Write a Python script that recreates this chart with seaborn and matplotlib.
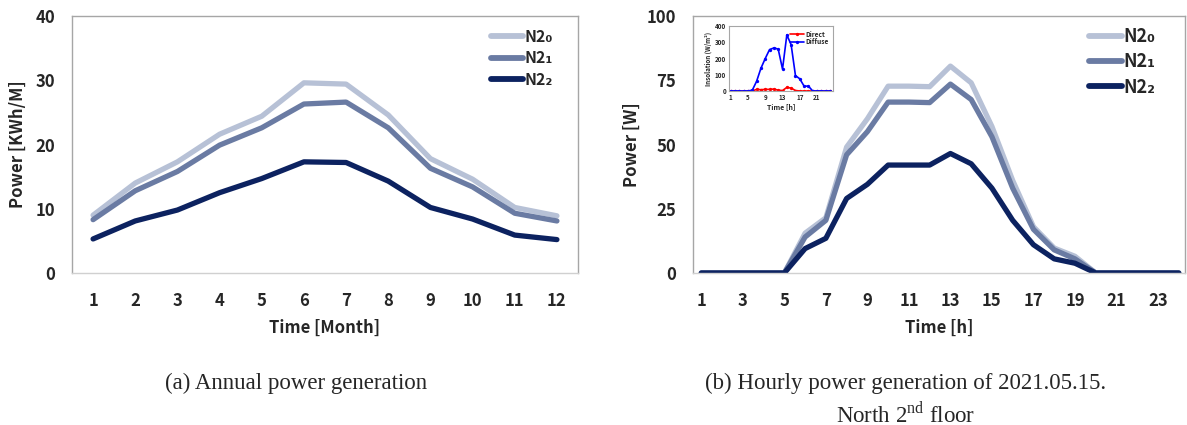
import numpy as np
import pandas as pd
import matplotlib.pyplot as plt
import seaborn as sns

# annual (kWh per month)
months = list(range(1, 13))
annual_n20 = [9.0, 14.0, 17.3, 21.6, 24.4, 29.6, 29.4, 24.6, 17.8, 14.6, 10.2, 8.9]
annual_n21 = [8.3, 12.8, 15.8, 19.9, 22.6, 26.3, 26.6, 22.6, 16.3, 13.4, 9.3, 8.1]
annual_n22 = [5.3, 8.1, 9.8, 12.5, 14.7, 17.3, 17.2, 14.3, 10.2, 8.4, 5.9, 5.2]

# hourly (W) on 2021.05.15
hours = list(range(1, 25))
hourly_n20 = [0, 0, 0, 0, 0, 15.5, 21.5, 49, 60, 72.7, 72.7, 72.5, 80.5, 74, 57, 36, 18, 9.7, 6.5, 0, 0, 0, 0, 0]
hourly_n21 = [0, 0, 0, 0, 0, 14, 20.5, 46, 55, 66.5, 66.5, 66.3, 73.5, 67.5, 53, 33, 17, 9, 5.5, 0, 0, 0, 0, 0]
hourly_n22 = [0, 0, 0, 0, 0, 9.5, 13.5, 29, 34.5, 42, 42, 42, 46.5, 42.5, 33, 20.5, 11, 5.5, 3.8, 0, 0, 0, 0, 0]

# inset insolation (W/m2)
direct = [0, 0, 0, 0, 0, 0, 10, 8, 10, 10, 12, 5, 3, 22, 18, 3, 0, 0, 0, 0, 0, 0, 0, 0]
diffuse = [0, 0, 0, 0, 0, 5, 60, 140, 200, 255, 265, 258, 135, 345, 285, 95, 75, 30, 30, 0, 0, 0, 0, 0]

series_names = ["N2\u2080", "N2\u2081", "N2\u2082"]
colors = ["#B7C1D6", "#6A7BA3", "#0C2260"]

sns.set_theme(style="white")
plt.rcParams['font.family'] = ['Noto Sans CJK KR', 'DejaVu Sans']

df_a = pd.DataFrame({"x": months * 3,
                     "y": annual_n20 + annual_n21 + annual_n22,
                     "s": sum([[n] * 12 for n in series_names], [])})
df_b = pd.DataFrame({"x": hours * 3,
                     "y": hourly_n20 + hourly_n21 + hourly_n22,
                     "s": sum([[n] * 24 for n in series_names], [])})

fig = plt.figure(figsize=(11.87, 4.25), dpi=100)
W, H = 1187, 425


def box(x0, y0, x1, y1):
    return [x0 / W, 1 - y1 / H, (x1 - x0) / W, (y1 - y0) / H]


ax1 = fig.add_axes(box(72, 16, 578, 273))
ax2 = fig.add_axes(box(693, 16, 1185, 273))

palette = dict(zip(series_names, colors))
for ax, df, lsize, hlen, anchor in [(ax1, df_a, 11.5, 2.0, (0.95, 0.95)),
                                     (ax2, df_b, 13, 1.8, (0.94, 0.957))]:
    sns.lineplot(data=df, x="x", y="y", hue="s", palette=palette, linewidth=3.8,
                 ax=ax, legend=False, solid_joinstyle="round", solid_capstyle="round")
    for sp in ax.spines.values():
        sp.set_color("#A6A6A6")
        sp.set_linewidth(1.0)
    ax.spines["bottom"].set_color("#D0D0D0")
    ax.tick_params(axis="y", length=0, labelsize=12, pad=12)
    ax.tick_params(axis="x", length=0, labelsize=12, pad=14)
    handles = [plt.Line2D([], [], color=c, lw=4.2, solid_capstyle="round") for c in colors]
    ax.legend(handles, series_names, loc="upper right", frameon=False,
              handlelength=hlen, handletextpad=0.1, labelspacing=0.35,
              borderaxespad=0, borderpad=0, bbox_to_anchor=anchor,
              prop={"weight": "bold", "size": lsize})

ax1.set_xlim(0.5, 12.5)
ax1.set_ylim(0, 40)
ax1.set_xticks(months)
ax1.set_yticks([0, 10, 20, 30, 40])
ax1.set_xticklabels([str(m) for m in months], fontweight="bold")
ax1.set_yticklabels(["0", "10", "20", "30", "40"], fontweight="bold")
ax1.set_xlabel("Time [Month]", fontsize=12, fontweight="bold", labelpad=6)
ax1.set_ylabel("Power [KWh/M]", fontsize=12, fontweight="bold", labelpad=6)

ax2.set_xlim(0.6, 24.3)
ax2.set_ylim(0, 100)
ax2.set_xticks(list(range(1, 24, 2)))
ax2.set_yticks([0, 25, 50, 75, 100])
ax2.set_xticklabels([str(h) for h in range(1, 24, 2)], fontweight="bold")
ax2.set_yticklabels(["0", "25", "50", "75", "100"], fontweight="bold")
ax2.set_xlabel("Time [h]", fontsize=12, fontweight="bold", labelpad=6)
ax2.set_ylabel("Power [W]", fontsize=12, fontweight="bold", labelpad=4)

# inset
axi = fig.add_axes(box(729, 26, 833, 91))
df_i = pd.DataFrame({"x": hours * 2, "y": direct + diffuse,
                     "s": ["Direct"] * 24 + ["Diffuse"] * 24})
sns.lineplot(data=df_i, x="x", y="y", hue="s", palette={"Direct": "#FF0000", "Diffuse": "#0000FF"},
             marker="o", markersize=2.4, markeredgewidth=0, linewidth=1.2, ax=axi)
axi.set_xlim(0.6, 24.7)
axi.set_ylim(0, 400)
axi.set_xticks([1, 5, 9, 13, 17, 21])
axi.set_yticks([0, 100, 200, 300, 400])
axi.tick_params(axis="both", length=0, labelsize=4.5, pad=2)
for lab in axi.get_xticklabels() + axi.get_yticklabels():
    lab.set_fontweight("bold")
axi.set_xlabel("Time [h]", fontsize=5, fontweight="bold", labelpad=2)
axi.set_ylabel("Insolation (W/m\u00b2)", fontsize=4.5, fontweight="bold", labelpad=2)
for sp in axi.spines.values():
    sp.set_color("#A6A6A6")
    sp.set_linewidth(0.8)
axi.legend(loc="upper right", frameon=False, handlelength=2.0,
           handletextpad=0.2, labelspacing=0.1, borderpad=0.2,
           prop={"weight": "bold", "size": 4.8})

# captions
cap = {"family": ["Liberation Serif", "DejaVu Serif"], "fontsize": 16.5}
fig.text(296 / W, 1 - 383 / H, "(a) Annual power generation", ha="center", va="center", **cap)
fig.text(906 / W, 1 - 383 / H, "(b) Hourly power generation of 2021.05.15.", ha="center", va="center", **cap)
fig.text(906 / W, 1 - 414 / H, "North 2$^{\\mathregular{nd}}$ floor", ha="center", va="center", **cap)

fig.savefig("out.png", dpi=100)
